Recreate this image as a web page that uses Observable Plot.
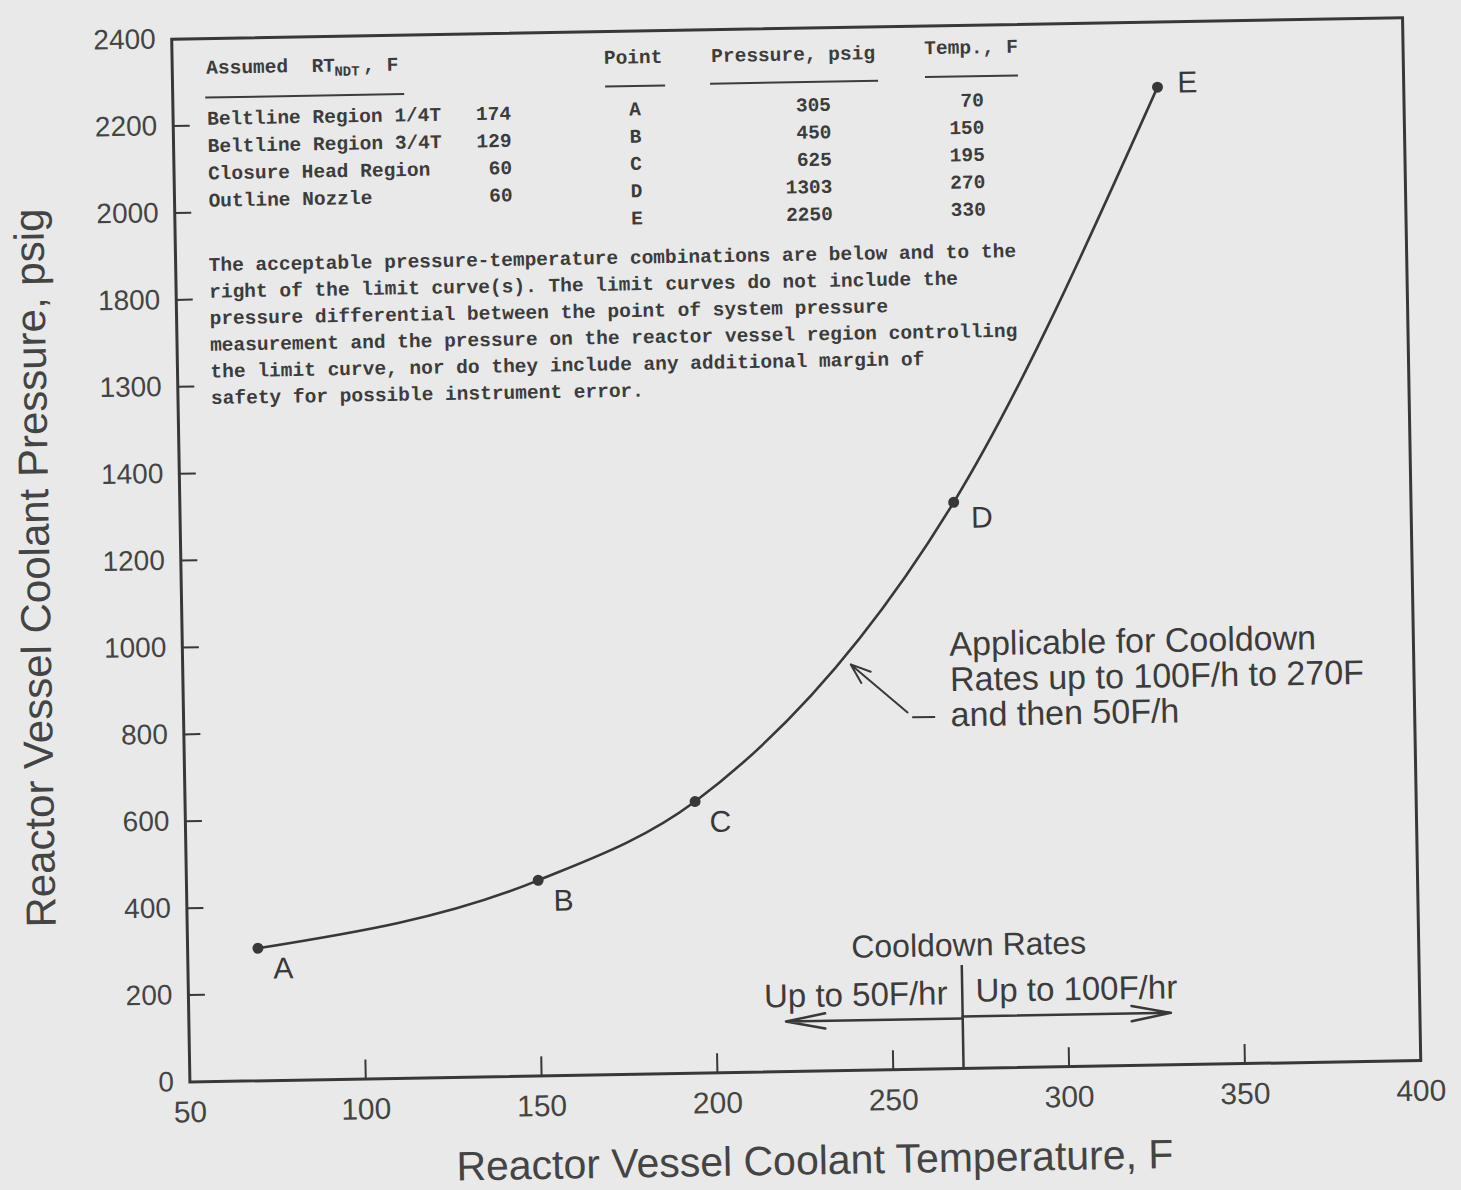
<!DOCTYPE html>
<html>
<head>
<meta charset="utf-8">
<script src="https://cdn.jsdelivr.net/npm/d3@7"></script>
<script src="https://cdn.jsdelivr.net/npm/@observablehq/plot@0.6"></script>
<style>
  html, body { margin: 0; padding: 0; background: #e9e9e9; }
  #chart { width: 1461px; height: 1190px; overflow: hidden; }
  /* the printed sheet sits slightly askew */
  #chart svg { transform: rotate(-1deg); transform-origin: 730px 595px; }
  #chart svg g[aria-label="annotation"] text { letter-spacing: 1.2px; }
</style>
</head>
<body>
<div id="chart"></div>
<script>
// Limit curve points
const points = ["A", "B", "C", "D", "E"];
const pressure = [305, 450, 625, 1303, 2250];   // psig
const temperature = [70, 150, 195, 270, 330];   // F

// Axis ticks
const xTickValues = [50, 100, 150, 200, 250, 300, 350, 400];
const yTickValues = [0, 200, 400, 600, 800, 1000, 1200, 1400, 1600, 1800, 2000, 2200, 2400];
const yTickLabels = ["0", "200", "400", "600", "800", "1000", "1200", "1400", "1300", "1800", "2000", "2200", "2400"];

// Assumed RT_NDT table
const regions = ["Beltline Region 1/4T", "Beltline Region 3/4T", "Closure Head Region", "Outline Nozzle"];
const rtNdt = [174, 129, 60, 60];

const noteLines = [
  "The acceptable pressure-temperature combinations are below and to the",
  "right of the limit curve(s). The limit curves do not include the",
  "pressure differential between the point of system pressure",
  "measurement and the pressure on the reactor vessel region controlling",
  "the limit curve, nor do they include any additional margin of",
  "safety for possible instrument error."
];

const calloutLines = ["Applicable for Cooldown", "Rates up to 100F/h to 270F", "and then 50F/h"];
const cooldownTitle = "Cooldown Rates";
const cooldownLeft = "Up to 50F/hr";
const cooldownRight = "Up to 100F/hr";
const cooldownSplit = 270;

const rows = points.map((p, i) => ({point: p, pressure: pressure[i], temperature: temperature[i]}));

// Layout
const W = 1461, H = 1190;
const mL = 181, mR = 49, mT = 29, mB = 118;
const xDomain = [50, 400], yDomain = [0, 2400];
// pixel -> data helpers for placing annotations
const ux = d3.scaleLinear([mL, W - mR], xDomain);
const uy = d3.scaleLinear([H - mB, mT], yDomain);

const ink = "#383838";
const sans = "Liberation Sans, Arial, sans-serif";
const annot = {fontFamily: sans, fill: "#3c3c3c", ariaLabel: "annotation"};
const mono = {fontFamily: "Liberation Mono, DejaVu Sans Mono, monospace", fontWeight: "bold", fontSize: 19.5, fill: "#3c3c3c"};

const monoText = (text, px, py, anchor = "start", extra = {}) =>
  Plot.text([text], {x: ux(px), y: uy(py), text: d => d, textAnchor: anchor, lineAnchor: "middle", ...mono, ...extra});
const underline = (x1, x2, py) =>
  Plot.ruleY([uy(py)], {x1: ux(x1), x2: ux(x2), stroke: "#3c3c3c", strokeWidth: 2});

const rowY = (top, i) => top + i * 27.3;

const tableMarks = [
  // left block: assumed RT_NDT
  monoText("Assumed  RT", 215, 58),
  monoText("NDT", 343, 64, "start", {fontSize: 14}),
  monoText(", F", 372, 58),
  underline(214, 413, 88),
  ...regions.map((r, i) => monoText(r, 215, rowY(109, i))),
  ...rtNdt.map((v, i) => monoText(String(v), 519, rowY(109, i), "end")),
  // right block: points
  monoText("Point", 642, 55, "middle"),
  underline(614, 674, 84),
  monoText("Pressure, psig", 802, 55, "middle"),
  underline(719, 887, 83),
  monoText("Temp., F", 980, 51, "middle"),
  underline(934, 1027, 80),
  ...points.map((p, i) => monoText(p, 643, rowY(107, i), "middle")),
  ...pressure.map((v, i) => monoText(String(v), 839, rowY(106, i), "end")),
  ...temperature.map((v, i) => monoText(String(v), 992, rowY(104, i), "end")),
  // note paragraph, one block of lines
  monoText(noteLines.join("\n"), 214, 253 + 2.5 * 26.6, "start", {lineHeight: 26.6 / 19.5})
];

const chart = Plot.plot({
  width: W,
  height: H,
  marginLeft: mL,
  marginRight: mR,
  marginTop: mT,
  marginBottom: mB,
  style: {background: "#e9e9e9", color: ink, fontFamily: sans, fontSize: "28px"},
  x: {domain: xDomain},
  y: {domain: yDomain},
  marks: [
    Plot.frame({stroke: ink, strokeWidth: 3}),
    Plot.axisY({
      ticks: yTickValues, tickSize: 0, tickPadding: 16, label: null,
      tickFormat: d => yTickLabels[yTickValues.indexOf(d)], fill: "#444"
    }),
    Plot.axisX({ticks: xTickValues, tickSize: 0, tickPadding: 19, label: null, fill: "#444", fontSize: 30}),
    // inward tick marks
    Plot.ruleY(yTickValues.filter(v => v > yDomain[0] && v < yDomain[1]),
      {y: d => d, x1: xDomain[0], x2: ux(mL + 17), stroke: ink, strokeWidth: 2}),
    Plot.ruleX(xTickValues.filter(v => v > xDomain[0] && v < xDomain[1]),
      {x: d => d, y1: yDomain[0], y2: uy(H - mB - 19), stroke: ink, strokeWidth: 2}),

    // axis titles
    Plot.text(["Reactor Vessel Coolant Pressure, psig"], {
      frameAnchor: "left", dx: 36 - mL, dy: 5, rotate: -90, text: d => d,
      textAnchor: "middle", lineAnchor: "middle",
      fontSize: 42, fill: "#444", fontFamily: sans
    }),
    Plot.text(["Reactor Vessel Coolant Temperature, F"], {
      frameAnchor: "bottom", dx: 8, dy: 90, text: d => d,
      textAnchor: "middle", lineAnchor: "middle",
      fontSize: 41, fill: "#444", fontFamily: sans
    }),

    // limit curve
    Plot.line(rows, {x: "temperature", y: "pressure", curve: "monotone-x", stroke: ink, strokeWidth: 2.6}),
    Plot.dot(rows, {x: "temperature", y: "pressure", r: 5.5, fill: ink}),
    Plot.text(rows.filter(d => "ABC".includes(d.point)), {
      x: "temperature", y: "pressure", text: "point", dx: 25, dy: 21, fontSize: 30, fill: ink
    }),
    Plot.text(rows.filter(d => d.point === "D"), {
      x: "temperature", y: "pressure", text: "point", dx: 28, dy: 16, fontSize: 30, fill: ink
    }),
    Plot.text(rows.filter(d => d.point === "E"), {
      x: "temperature", y: "pressure", text: "point", dx: 30, dy: -4, fontSize: 30, fill: ink
    }),

    // callout
    Plot.arrow([0], {
      x1: ux(905), y1: uy(715), x2: ux(849), y2: uy(666),
      stroke: ink, strokeWidth: 2, headLength: 16, headAngle: 40
    }),
    Plot.ruleY([uy(720)], {x1: ux(910), x2: ux(933), stroke: ink, strokeWidth: 2}),
    Plot.text([calloutLines.join("\n")], {
      x: ux(948), y: uy(683), text: d => d, textAnchor: "start", lineAnchor: "middle",
      lineHeight: 1.04, fontSize: 34, ...annot
    }),

    // cooldown rate split
    Plot.ruleX([cooldownSplit], {y1: 0, y2: uy(969), stroke: ink, strokeWidth: 2.5}),
    Plot.arrow([0], {x1: cooldownSplit, x2: ux(778), y1: uy(1022), y2: uy(1022), stroke: ink, strokeWidth: 2.5, headLength: 24, headAngle: 22}),
    Plot.arrow([0], {x1: cooldownSplit, x2: ux(1163), y1: uy(1020), y2: uy(1020), stroke: ink, strokeWidth: 2.5, headLength: 24, headAngle: 22}),
    Plot.text([cooldownTitle], {x: ux(962), y: uy(949), text: d => d, fontSize: 32, ...annot}),
    Plot.text([cooldownLeft], {x: ux(940), y: uy(997), text: d => d, textAnchor: "end", fontSize: 33, ...annot}),
    Plot.text([cooldownRight], {x: ux(968), y: uy(995), text: d => d, textAnchor: "start", fontSize: 33, ...annot}),

    ...tableMarks
  ]
});

document.getElementById("chart").append(chart);
</script>
</body>
</html>
